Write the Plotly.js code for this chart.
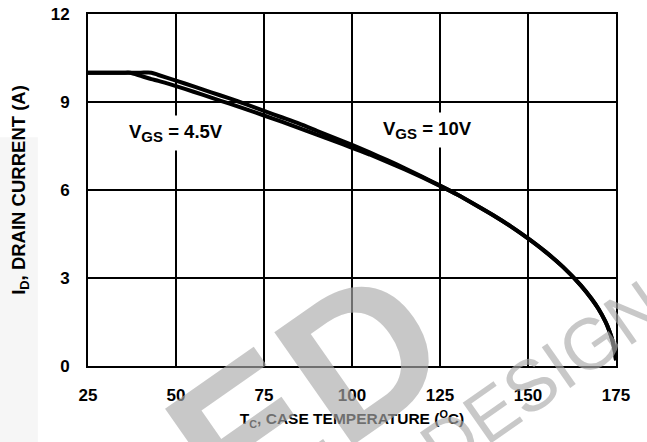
<!DOCTYPE html>
<html>
<head>
<meta charset="utf-8">
<script src="https://cdn.plot.ly/plotly-3.0.1.min.js"></script>
<style>html,body{margin:0;padding:0;background:#fff;}#chart{width:647px;height:442px;}</style>
</head>
<body>
<div id="chart"></div>
<script>
// Case temperature (°C) and drain current (A), VGS = 10V
const tempVgs10 = [25,30,35,40,43,45,50,55,60,65,70,75,80,85,90,95,100,105,110,115,120,125,130,135,140,145,150,155,160,165,168,170,172,173,174,174.6,175];
const currentVgs10 = [10,10,10,10,10,9.92,9.73,9.53,9.33,9.13,8.92,8.70,8.48,8.26,8.02,7.78,7.54,7.28,7.02,6.74,6.45,6.15,5.84,5.50,5.15,4.77,4.35,3.89,3.37,2.75,2.30,1.95,1.51,1.23,0.87,0.55,0.2];
// VGS = 4.5V
const tempVgs45 = [25,30,35,37,40,43,45,50,55,60,65,70,75,80,85,90,95,100,105,110,115,120,125,130,135,140,145,150,155,160,165,168,170,172,173,174,174.6,175];
const currentVgs45 = [10,10,10,10,9.89,9.78,9.72,9.54,9.35,9.15,8.95,8.75,8.54,8.33,8.11,7.89,7.67,7.44,7.21,6.96,6.70,6.43,6.14,5.84,5.50,5.15,4.77,4.35,3.89,3.37,2.75,2.30,1.95,1.51,1.23,0.87,0.55,0.2];
const xTicks = [25,50,75,100,125,150,175];
const yTicks = [0,3,6,9,12];

const fam = 'Liberation Sans, Arial, sans-serif';
const font = {family: fam, size: 17, color: '#000', weight: 'bold'};
const wm = 'rgba(170,170,170,0.65)';

const traces = [
  {x: tempVgs45, y: currentVgs45, mode: 'lines', line: {color: '#000', width: 4, shape: 'spline', smoothing: 0.6}, hoverinfo: 'skip', showlegend: false},
  {x: tempVgs10, y: currentVgs10, mode: 'lines', line: {color: '#000', width: 4, shape: 'spline', smoothing: 0.6}, hoverinfo: 'skip', showlegend: false}
];

const axisCommon = {
  showline: true, mirror: true, linecolor: '#000', linewidth: 2,
  showgrid: true, gridcolor: '#000', gridwidth: 2, zeroline: false,
  ticks: '', tickfont: font, fixedrange: true
};

const layout = {
  width: 647, height: 442,
  margin: {l: 88, r: 31, t: 14, b: 76},
  paper_bgcolor: '#fff', plot_bgcolor: '#fff',
  font: font,
  xaxis: Object.assign({}, axisCommon, {
    range: [25, 175], tickvals: xTicks, ticktext: xTicks.map(String), ticklabelstandoff: 13,
    title: {text: 'T<sub>C</sub>, CASE TEMPERATURE (<sup>O</sup>C)', font: Object.assign({}, font, {size: 15.5}), standoff: 9}
  }),
  yaxis: Object.assign({}, axisCommon, {
    range: [0, 12], tickvals: yTicks, ticktext: yTicks.map(String), ticklabelstandoff: 13,
    title: {text: 'I<sub>D</sub>, DRAIN CURRENT (A)', font: Object.assign({}, font, {size: 18.5}), standoff: 20}
  }),
  shapes: [
    {type: 'rect', xref: 'paper', yref: 'paper', x0: -0.1667, x1: -0.095, y0: -0.22, y1: 0.65, fillcolor: '#f6f6f6', line: {width: 0}, layer: 'below'}
  ],
  annotations: [
    {x: 50, y: 7.95, xref: 'x', yref: 'y', text: 'V<sub><span style="font-size:15px">GS</span></sub> = 4.5V', showarrow: false, bgcolor: '#fff', borderpad: 5, font: Object.assign({}, font, {size: 18.5})},
    {x: 121.4, y: 8.05, xref: 'x', yref: 'y', text: 'V<sub><span style="font-size:15px">GS</span></sub> = 10V', showarrow: false, bgcolor: '#fff', borderpad: 5, font: Object.assign({}, font, {size: 18.5})},
    {x: 0.415, y: -0.075, xref: 'paper', yref: 'paper', text: 'ED', showarrow: false, textangle: -35, xanchor: 'center', yanchor: 'middle', font: {family: fam, size: 200, color: wm, weight: 'bold'}},
    {x: 0.86, y: -0.03, xref: 'paper', yref: 'paper', text: 'DESIGN', showarrow: false, textangle: -35, xanchor: 'center', yanchor: 'middle', font: {family: fam, size: 72, color: wm, weight: 'normal'}}
  ]
};

Plotly.newPlot('chart', traces, layout, {staticPlot: true, displayModeBar: false});
</script>
</body>
</html>
